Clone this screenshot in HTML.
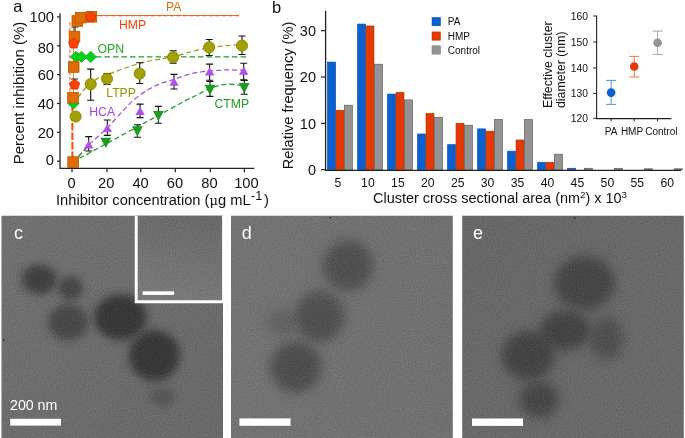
<!DOCTYPE html>
<html lang="en"><head><meta charset="utf-8"><title>Figure</title>
<style>html,body{margin:0;padding:0;background:#fff}svg{display:block}</style></head>
<body>
<svg width="685" height="438" viewBox="0 0 685 438" font-family='"Liberation Sans", sans-serif'>
<defs>
<filter id="bl" x="-50%" y="-50%" width="200%" height="200%"><feGaussianBlur stdDeviation="4.2"/></filter>
<filter id="bl2" x="-50%" y="-50%" width="200%" height="200%"><feGaussianBlur stdDeviation="5.2"/></filter>
<filter id="noise" x="0" y="0" width="100%" height="100%" color-interpolation-filters="sRGB">
<feTurbulence type="fractalNoise" baseFrequency="0.85" numOctaves="1" seed="3" result="n"/>
<feColorMatrix type="matrix" values="2.2 0 0 0 -0.64  2.2 0 0 0 -0.64  2.2 0 0 0 -0.64  0 0 0 0 0.07"/>
</filter>
<linearGradient id="gc" x1="0" y1="0" x2="1" y2="1"><stop offset="0" stop-color="#717171"/><stop offset="1" stop-color="#686868"/></linearGradient>
<linearGradient id="gd" x1="0" y1="0" x2="1" y2="0"><stop offset="0" stop-color="#737373"/><stop offset="1" stop-color="#707070"/></linearGradient>
<linearGradient id="ge" x1="0" y1="0" x2="1" y2="1"><stop offset="0" stop-color="#676767"/><stop offset="1" stop-color="#696969"/></linearGradient>
<linearGradient id="gi" x1="0.6" y1="0" x2="0.4" y2="1"><stop offset="0" stop-color="#696969"/><stop offset="1" stop-color="#7a7a7a"/></linearGradient>
<clipPath id="cc"><rect x="1.5" y="215.8" width="221.5" height="223"/></clipPath>
<clipPath id="cd"><rect x="231" y="215.8" width="221.8" height="223"/></clipPath>
<clipPath id="ce"><rect x="462.2" y="215.8" width="221.6" height="223"/></clipPath>
</defs>
<rect width="685" height="438" fill="#fff"/>
<g id="pa">
<path d="M60 13.2V168.4H254.3" stroke="#222" stroke-width="1.3" fill="none"/>
<path d="M57 161.2H60" stroke="#222" stroke-width="1.2"/>
<text x="54" y="165.3" font-size="14.7" text-anchor="end" fill="#111">0</text>
<path d="M72.0 168.4V172.2" stroke="#222" stroke-width="1.2"/>
<text x="71.5" y="187.7" font-size="14.7" text-anchor="middle" fill="#111">0</text>
<path d="M57 132.3H60" stroke="#222" stroke-width="1.2"/>
<text x="54" y="138.4" font-size="14.7" text-anchor="end" fill="#111">20</text>
<path d="M107.0 168.4V172.2" stroke="#222" stroke-width="1.2"/>
<text x="106.2" y="187.7" font-size="14.7" text-anchor="middle" fill="#111">20</text>
<path d="M57 103.5H60" stroke="#222" stroke-width="1.2"/>
<text x="54" y="108.8" font-size="14.7" text-anchor="end" fill="#111">40</text>
<path d="M140.8 168.4V172.2" stroke="#222" stroke-width="1.2"/>
<text x="140.6" y="187.7" font-size="14.7" text-anchor="middle" fill="#111">40</text>
<path d="M57 74.6H60" stroke="#222" stroke-width="1.2"/>
<text x="54" y="79.9" font-size="14.7" text-anchor="end" fill="#111">60</text>
<path d="M175.3 168.4V172.2" stroke="#222" stroke-width="1.2"/>
<text x="175.0" y="187.7" font-size="14.7" text-anchor="middle" fill="#111">60</text>
<path d="M57 45.8H60" stroke="#222" stroke-width="1.2"/>
<text x="54" y="53.1" font-size="14.7" text-anchor="end" fill="#111">80</text>
<path d="M210.3 168.4V172.2" stroke="#222" stroke-width="1.2"/>
<text x="209.4" y="187.7" font-size="14.7" text-anchor="middle" fill="#111">80</text>
<path d="M57 16.9H60" stroke="#222" stroke-width="1.2"/>
<text x="54" y="22.2" font-size="14.7" text-anchor="end" fill="#111">100</text>
<path d="M244.4 168.4V172.2" stroke="#222" stroke-width="1.2"/>
<text x="246.4" y="187.7" font-size="14.7" text-anchor="middle" fill="#111">100</text>
<text transform="translate(24.3,93) rotate(-90)" font-size="15" text-anchor="middle" fill="#111">Percent inhibition (%)</text>
<text x="56" y="204.7" font-size="14.7" fill="#111">Inhibitor concentration (<tspan font-family='"DejaVu Serif","Liberation Serif",serif' font-size="13">μ</tspan>g mL<tspan dy="-5" dx="0.5" font-size="12.8">-1</tspan><tspan dy="5" dx="1.4">)</tspan></text>
<text x="13.3" y="12.2" font-size="16.5" fill="#111">a</text>
<path d="M96 56.9H247" stroke="#18A518" stroke-width="1.1" stroke-dasharray="5.5 3" fill="none"/>
<path d="M92 15.5H239" stroke="#F07820" stroke-width="1.0" fill="none"/>
<path d="M92 15.8H239" stroke="#FF4200" stroke-width="0.8" stroke-dasharray="4 2.5" fill="none"/>
<path d="M72.4 104V157" stroke="#FF4A10" stroke-width="2.1" stroke-dasharray="7.5 2" fill="none"/>
<path d="M69.9 22V106" stroke="#FF4200" stroke-width="0.9" stroke-dasharray="3.5 2" fill="none"/>
<path d="M73.5 22V106" stroke="#F07820" stroke-width="0.9" fill="none"/>
<path d="M78.2 97.5C79.2 96.2 81.9 91.8 84.0 89.5C86.1 87.2 88.8 85.6 91.0 83.8C93.2 82.0 93.9 80.4 97.4 78.6C100.9 76.8 107.5 74.6 112.0 72.9C116.5 71.2 120.2 69.9 124.7 68.3C129.2 66.7 134.4 64.8 139.3 63.4C144.2 62.0 148.3 61.2 154.0 60.1C159.7 59.0 166.9 58.4 173.2 57.0C179.5 55.6 185.7 53.1 191.7 51.6C197.7 50.1 203.4 48.7 209.2 47.7C215.0 46.7 221.8 46.1 226.6 45.6C231.4 45.1 236.1 45.0 238.0 44.9" stroke="#9A9700" stroke-width="1.2" stroke-dasharray="5 3" fill="none"/>
<path d="M79.5 158.3C83.9 155.9 96.1 149.2 105.8 144.0C115.5 138.8 128.6 131.6 137.4 126.8C146.2 122.0 150.5 119.7 158.4 115.4C166.3 111.1 178.4 104.4 184.8 101.0C191.2 97.6 192.9 97.1 197.0 95.0C201.1 92.9 204.7 90.4 209.5 88.6C214.3 86.8 220.2 84.8 225.9 84.3C231.6 83.8 240.7 85.3 243.7 85.5" stroke="#22A022" stroke-width="1.3" stroke-dasharray="5 3" fill="none"/>
<path d="M78.5 156.5C80.2 154.6 84.2 149.5 88.9 144.8C93.6 140.1 101.2 134.0 106.9 128.3C112.6 122.6 118.2 115.7 122.9 110.8C127.6 105.9 130.9 102.4 134.9 99.0C138.9 95.6 142.9 92.9 146.9 90.4C150.9 88.0 154.3 86.1 158.8 84.3C163.3 82.5 168.2 81.2 173.7 79.4C179.2 77.6 185.8 75.0 191.7 73.6C197.6 72.2 203.2 71.6 209.0 71.0C214.8 70.4 220.9 70.0 226.6 69.9C232.3 69.8 240.3 70.2 243.0 70.3" stroke="#A64BE8" stroke-width="1.3" stroke-dasharray="5 3" fill="none"/>
<path d="M78.5 156.5L88 146.5" stroke="#22A022" stroke-width="1.3" stroke-dasharray="5 3" fill="none"/>
<polygon points="100.4,137.7 111.2,137.7 105.8,148.1" fill="#1E9A1E"/>
<path d="M137.4 124.7V137.3M133.9 124.7H140.9M133.9 137.3H140.9" stroke="#111" stroke-width="1.1" fill="none"/>
<polygon points="132.0,126.3 142.8,126.3 137.4,136.7" fill="#1E9A1E"/>
<path d="M158.4 106.4V123.3M154.9 106.4H161.9M154.9 123.3H161.9" stroke="#111" stroke-width="1.1" fill="none"/>
<polygon points="153.0,110.9 163.8,110.9 158.4,121.3" fill="#1E9A1E"/>
<path d="M210.0 81.5V96.4M206.5 81.5H213.5M206.5 96.4H213.5" stroke="#111" stroke-width="1.1" fill="none"/>
<polygon points="204.6,84.8 215.4,84.8 210.0,95.2" fill="#1E9A1E"/>
<path d="M244.2 80.5V94.2M240.7 80.5H247.7M240.7 94.2H247.7" stroke="#111" stroke-width="1.1" fill="none"/>
<polygon points="238.8,83.1 249.6,83.1 244.2,93.5" fill="#1E9A1E"/>
<path d="M88.7 136.6V151.0M85.2 136.6H92.2M85.2 151.0H92.2" stroke="#111" stroke-width="1.1" fill="none"/>
<polygon points="88.7,140.4 93.4,148.6 84.0,148.6" fill="#B050E8"/>
<path d="M107.3 120.0V135.4M103.8 120.0H110.8M103.8 135.4H110.8" stroke="#111" stroke-width="1.1" fill="none"/>
<polygon points="107.3,123.9 112.0,132.1 102.6,132.1" fill="#B050E8"/>
<path d="M140.1 104.1V117.6M136.6 104.1H143.6M136.6 117.6H143.6" stroke="#111" stroke-width="1.1" fill="none"/>
<polygon points="140.1,106.7 144.8,114.9 135.4,114.9" fill="#B050E8"/>
<path d="M174.0 74.4V89.0M170.5 74.4H177.5M170.5 89.0H177.5" stroke="#111" stroke-width="1.1" fill="none"/>
<polygon points="174.0,77.5 178.7,85.7 169.3,85.7" fill="#B050E8"/>
<path d="M209.6 64.1V80.2M206.1 64.1H213.1M206.1 80.2H213.1" stroke="#111" stroke-width="1.1" fill="none"/>
<polygon points="209.6,67.3 214.3,75.5 204.9,75.5" fill="#B050E8"/>
<path d="M243.7 63.3V79.8M240.2 63.3H247.2M240.2 79.8H247.2" stroke="#111" stroke-width="1.1" fill="none"/>
<polygon points="243.7,66.6 248.4,74.8 239.0,74.8" fill="#B050E8"/>
<circle cx="75.6" cy="116.5" r="5.6" fill="#A3A000" stroke="#858200" stroke-width="0.8"/>
<path d="M90.7 69.1V100.2M87.2 69.1H94.2M87.2 100.2H94.2" stroke="#111" stroke-width="1.1" fill="none"/>
<circle cx="90.7" cy="84.2" r="5.6" fill="#A3A000" stroke="#858200" stroke-width="0.8"/>
<path d="M107.0 73.5V84.5M103.5 73.5H110.5M103.5 84.5H110.5" stroke="#111" stroke-width="1.1" fill="none"/>
<circle cx="107.0" cy="78.8" r="5.6" fill="#A3A000" stroke="#858200" stroke-width="0.8"/>
<path d="M139.7 62.7V83.5M136.2 62.7H143.2M136.2 83.5H143.2" stroke="#111" stroke-width="1.1" fill="none"/>
<circle cx="139.7" cy="73.5" r="5.6" fill="#A3A000" stroke="#858200" stroke-width="0.8"/>
<path d="M173.2 50.8V63.3M169.7 50.8H176.7M169.7 63.3H176.7" stroke="#111" stroke-width="1.1" fill="none"/>
<circle cx="173.2" cy="57.2" r="5.6" fill="#A3A000" stroke="#858200" stroke-width="0.8"/>
<path d="M209.2 39.5V55.5M205.7 39.5H212.7M205.7 55.5H212.7" stroke="#111" stroke-width="1.1" fill="none"/>
<circle cx="209.2" cy="47.3" r="5.6" fill="#A3A000" stroke="#858200" stroke-width="0.8"/>
<path d="M242.0 36.0V54.5M238.5 36.0H245.5M238.5 54.5H245.5" stroke="#111" stroke-width="1.1" fill="none"/>
<circle cx="242.0" cy="45.6" r="5.6" fill="#A3A000" stroke="#858200" stroke-width="0.8"/>
<polygon points="73.5,97.7 79.2,103.4 73.5,109.10000000000001 67.8,103.4" fill="#00D215" stroke="#0AA51A" stroke-width="0.8"/>
<polygon points="76.1,51.199999999999996 81.8,56.9 76.1,62.6 70.39999999999999,56.9" fill="#00D215" stroke="#0AA51A" stroke-width="0.8"/>
<polygon points="81.5,51.199999999999996 87.2,56.9 81.5,62.6 75.8,56.9" fill="#00D215" stroke="#0AA51A" stroke-width="0.8"/>
<polygon points="90.7,51.199999999999996 96.4,56.9 90.7,62.6 85.0,56.9" fill="#00D215" stroke="#0AA51A" stroke-width="0.8"/>
<path d="M75.0 27.0V33.0M71.5 27.0H78.5M71.5 33.0H78.5" stroke="#111" stroke-width="1.1" fill="none"/>
<rect x="67.8" y="156.8" width="10.6" height="10.6" fill="#E06C00" stroke="#B35400" stroke-width="0.8"/>
<rect x="67.7" y="92.4" width="10.6" height="10.6" fill="#E06C00" stroke="#B35400" stroke-width="0.8"/>
<rect x="68.4" y="61.7" width="10.6" height="10.6" fill="#E06C00" stroke="#B35400" stroke-width="0.8"/>
<rect x="69.2" y="31.3" width="10.6" height="10.6" fill="#E06C00" stroke="#B35400" stroke-width="0.8"/>
<rect x="72.0" y="15.7" width="10.6" height="10.6" fill="#E06C00" stroke="#B35400" stroke-width="0.8"/>
<rect x="75.3" y="12.4" width="10.6" height="10.6" fill="#E06C00" stroke="#B35400" stroke-width="0.8"/>
<rect x="86.1" y="11.5" width="10.6" height="10.6" fill="#E06C00" stroke="#B35400" stroke-width="0.8"/>
<path d="M74.6 79.0V84.0M71.1 79.0H78.1M71.1 84.0H78.1" stroke="#111" stroke-width="1.1" fill="none"/>
<polygon points="73.8,38.2 78.9,41.9 77.0,48.0 70.6,48.0 68.7,41.9" fill="#FF4200" stroke="#C83000" stroke-width="0.8"/>
<polygon points="74.6,79.3 79.7,83.0 77.8,89.1 71.4,89.1 69.5,83.0" fill="#FF4200" stroke="#C83000" stroke-width="0.8"/>
<polygon points="90.7,11.8 95.8,15.5 93.9,21.6 87.5,21.6 85.6,15.5" fill="#FF4200" stroke="#C83000" stroke-width="0.8"/>
<text x="166" y="11.4" font-size="12.2" fill="#E2700C">PA</text>
<text x="119" y="28.9" font-size="12.2" fill="#FF4200">HMP</text>
<text x="97.5" y="52.5" font-size="12.3" fill="#1FAE1F">OPN</text>
<text x="106.3" y="96.8" font-size="12.2" fill="#999600">LTPP</text>
<text x="89.3" y="115.6" font-size="12.2" fill="#A040F0">HCA</text>
<text x="214.5" y="108.4" font-size="12.2" fill="#22A022">CTMP</text>
</g>
<g id="pb">
<rect x="327.65" y="62.1" width="7.90" height="107.8" fill="#0A60D0" stroke="#0A4FA8" stroke-width="0.7"/>
<rect x="336.05" y="110.3" width="7.90" height="59.6" fill="#E23A00" stroke="#B83000" stroke-width="0.7"/>
<rect x="344.45" y="105.2" width="7.90" height="64.7" fill="#939393" stroke="#5c5c5c" stroke-width="0.7"/>
<rect x="357.65" y="24.1" width="7.90" height="145.8" fill="#0A60D0" stroke="#0A4FA8" stroke-width="0.7"/>
<rect x="366.05" y="26.0" width="7.90" height="143.9" fill="#E23A00" stroke="#B83000" stroke-width="0.7"/>
<rect x="374.45" y="64.2" width="7.90" height="105.7" fill="#939393" stroke="#5c5c5c" stroke-width="0.7"/>
<rect x="387.65" y="94.1" width="7.90" height="75.8" fill="#0A60D0" stroke="#0A4FA8" stroke-width="0.7"/>
<rect x="396.05" y="92.3" width="7.90" height="77.6" fill="#E23A00" stroke="#B83000" stroke-width="0.7"/>
<rect x="404.45" y="99.9" width="7.90" height="70.0" fill="#939393" stroke="#5c5c5c" stroke-width="0.7"/>
<rect x="417.65" y="134.0" width="7.90" height="35.9" fill="#0A60D0" stroke="#0A4FA8" stroke-width="0.7"/>
<rect x="426.05" y="113.6" width="7.90" height="56.3" fill="#E23A00" stroke="#B83000" stroke-width="0.7"/>
<rect x="434.45" y="117.3" width="7.90" height="52.6" fill="#939393" stroke="#5c5c5c" stroke-width="0.7"/>
<rect x="447.65" y="144.7" width="7.90" height="25.2" fill="#0A60D0" stroke="#0A4FA8" stroke-width="0.7"/>
<rect x="456.05" y="123.3" width="7.90" height="46.6" fill="#E23A00" stroke="#B83000" stroke-width="0.7"/>
<rect x="464.45" y="125.2" width="7.90" height="44.7" fill="#939393" stroke="#5c5c5c" stroke-width="0.7"/>
<rect x="477.65" y="128.9" width="7.90" height="41.0" fill="#0A60D0" stroke="#0A4FA8" stroke-width="0.7"/>
<rect x="486.05" y="131.2" width="7.90" height="38.7" fill="#E23A00" stroke="#B83000" stroke-width="0.7"/>
<rect x="494.45" y="119.6" width="7.90" height="50.3" fill="#939393" stroke="#5c5c5c" stroke-width="0.7"/>
<rect x="507.65" y="151.2" width="7.90" height="18.7" fill="#0A60D0" stroke="#0A4FA8" stroke-width="0.7"/>
<rect x="516.05" y="140.0" width="7.90" height="29.9" fill="#E23A00" stroke="#B83000" stroke-width="0.7"/>
<rect x="524.45" y="119.6" width="7.90" height="50.3" fill="#939393" stroke="#5c5c5c" stroke-width="0.7"/>
<rect x="537.65" y="162.3" width="7.90" height="7.6" fill="#0A60D0" stroke="#0A4FA8" stroke-width="0.7"/>
<rect x="546.05" y="162.3" width="7.90" height="7.6" fill="#E23A00" stroke="#B83000" stroke-width="0.7"/>
<rect x="554.45" y="154.2" width="7.90" height="15.7" fill="#939393" stroke="#5c5c5c" stroke-width="0.7"/>
<rect x="567.65" y="168.3" width="7.90" height="1.6" fill="#0A60D0" stroke="#0A4FA8" stroke-width="0.7"/>
<rect x="584.45" y="168.3" width="7.90" height="1.6" fill="#939393" stroke="#5c5c5c" stroke-width="0.7"/>
<rect x="614.45" y="168.3" width="7.90" height="1.6" fill="#939393" stroke="#5c5c5c" stroke-width="0.7"/>
<rect x="644.45" y="168.8" width="7.90" height="1.1" fill="#939393" stroke="#5c5c5c" stroke-width="0.7"/>
<rect x="674.45" y="168.8" width="7.90" height="1.1" fill="#939393" stroke="#5c5c5c" stroke-width="0.7"/>
<path d="M325.6 10.7V170.3H681" stroke="#222" stroke-width="1.3" fill="none"/>
<path d="M321 169.7H325.6" stroke="#222" stroke-width="1.2"/>
<text x="316" y="174.9" font-size="14.5" text-anchor="end" fill="#111">0</text>
<path d="M321 123.3H325.6" stroke="#222" stroke-width="1.2"/>
<text x="316" y="128.5" font-size="14.5" text-anchor="end" fill="#111">10</text>
<path d="M321 77.0H325.6" stroke="#222" stroke-width="1.2"/>
<text x="316" y="82.2" font-size="14.5" text-anchor="end" fill="#111">20</text>
<path d="M321 30.6H325.6" stroke="#222" stroke-width="1.2"/>
<text x="316" y="35.8" font-size="14.5" text-anchor="end" fill="#111">30</text>
<text x="338.0" y="186.5" font-size="12.2" text-anchor="middle" fill="#111">5</text>
<text x="367.9" y="186.5" font-size="12.2" text-anchor="middle" fill="#111">10</text>
<text x="397.9" y="186.5" font-size="12.2" text-anchor="middle" fill="#111">15</text>
<text x="427.8" y="186.5" font-size="12.2" text-anchor="middle" fill="#111">20</text>
<text x="457.7" y="186.5" font-size="12.2" text-anchor="middle" fill="#111">25</text>
<text x="487.6" y="186.5" font-size="12.2" text-anchor="middle" fill="#111">30</text>
<text x="517.6" y="186.5" font-size="12.2" text-anchor="middle" fill="#111">35</text>
<text x="547.5" y="186.5" font-size="12.2" text-anchor="middle" fill="#111">40</text>
<text x="577.4" y="186.5" font-size="12.2" text-anchor="middle" fill="#111">45</text>
<text x="607.4" y="186.5" font-size="12.2" text-anchor="middle" fill="#111">50</text>
<text x="637.3" y="186.5" font-size="12.2" text-anchor="middle" fill="#111">55</text>
<text x="667.2" y="186.5" font-size="12.2" text-anchor="middle" fill="#111">60</text>
<text transform="translate(293,95.5) rotate(-90)" font-size="14.6" text-anchor="middle" fill="#111">Relative frequency (%)</text>
<text x="373" y="203" font-size="14.45" fill="#111">Cluster cross sectional area (nm<tspan dy="-5" font-size="9.8">2</tspan><tspan dy="5">) x 10</tspan><tspan dy="-5" font-size="9.8">3</tspan></text>
<text x="272" y="13.2" font-size="16.5" fill="#111">b</text>
<rect x="432" y="17.5" width="8.5" height="8.3" fill="#0A60D0" stroke="#0850B0" stroke-width="0.5"/>
<text x="447.8" y="25.1" font-size="10" fill="#111">PA</text>
<rect x="432" y="31.9" width="8.5" height="8.3" fill="#E23A00" stroke="#C03000" stroke-width="0.5"/>
<text x="447.8" y="39.5" font-size="10" fill="#111">HMP</text>
<rect x="432" y="45.8" width="8.5" height="8.3" fill="#939393" stroke="#6e6e6e" stroke-width="0.5"/>
<text x="447.8" y="53.9" font-size="10" fill="#111">Control</text>
<path d="M596.6 15.4V118.6H671.4" stroke="#222" stroke-width="1.1" fill="none"/>
<path d="M593.2 118.3H596.6" stroke="#222" stroke-width="1"/>
<text x="588" y="121.9" font-size="10.3" text-anchor="end" fill="#111">120</text>
<path d="M593.2 93.4H596.6" stroke="#222" stroke-width="1"/>
<text x="588" y="97.0" font-size="10.3" text-anchor="end" fill="#111">130</text>
<path d="M593.2 67.9H596.6" stroke="#222" stroke-width="1"/>
<text x="588" y="71.5" font-size="10.3" text-anchor="end" fill="#111">140</text>
<path d="M593.2 42.0H596.6" stroke="#222" stroke-width="1"/>
<text x="588" y="45.6" font-size="10.3" text-anchor="end" fill="#111">150</text>
<path d="M593.2 16.0H596.6" stroke="#222" stroke-width="1"/>
<text x="588" y="19.6" font-size="10.3" text-anchor="end" fill="#111">160</text>
<path d="M611.1 118.6V121.4" stroke="#222" stroke-width="1"/>
<path d="M611.1 80.4V104.4M606.1 80.4H616.1M606.1 104.4H616.1" stroke="#3F86DC" stroke-width="0.9" fill="none"/>
<circle cx="611.1" cy="92.6" r="4.3" fill="#0A60D0"/>
<path d="M634.2 118.6V121.4" stroke="#222" stroke-width="1"/>
<path d="M634.2 56.4V77.0M629.2 56.4H639.2M629.2 77.0H639.2" stroke="#EA6A3C" stroke-width="0.9" fill="none"/>
<circle cx="634.2" cy="66.5" r="4.3" fill="#E23A00"/>
<path d="M657.6 118.6V121.4" stroke="#222" stroke-width="1"/>
<path d="M657.6 31.1V54.5M652.6 31.1H662.6M652.6 54.5H662.6" stroke="#A2A2A2" stroke-width="0.9" fill="none"/>
<circle cx="657.6" cy="42.8" r="4.3" fill="#939393"/>
<text x="611.1" y="134.6" font-size="10" text-anchor="middle" fill="#111">PA</text>
<text x="632" y="134.6" font-size="10" text-anchor="middle" fill="#111">HMP</text>
<text x="661.3" y="134.6" font-size="10" text-anchor="middle" fill="#111">Control</text>
<text transform="translate(552.2,108) rotate(-90)" font-size="12.3" fill="#111">Effective cluster</text>
<text transform="translate(565,108) rotate(-90)" font-size="12.3" fill="#111">diameter (nm)</text>
</g>
<g id="pc" clip-path="url(#cc)">
<rect x="1" y="215" width="223" height="224" fill="url(#gc)"/>
<ellipse cx="39.3" cy="279.5" rx="17.5" ry="15" fill="#3a3a3a" opacity="0.97" filter="url(#bl)"/>
<ellipse cx="70.3" cy="288.0" rx="12.5" ry="12" fill="#3e3e3e" opacity="0.9" filter="url(#bl)"/>
<ellipse cx="68.2" cy="322.3" rx="20" ry="18.5" fill="#424242" opacity="0.92" filter="url(#bl)"/>
<ellipse cx="120.5" cy="317.3" rx="26.5" ry="23" fill="#333333" opacity="0.97" filter="url(#bl)"/>
<ellipse cx="154.3" cy="355.5" rx="25.5" ry="25.5" fill="#333333" opacity="0.97" filter="url(#bl)"/>
<ellipse cx="163.5" cy="397.0" rx="11" ry="10" fill="#4a4a4a" opacity="0.7" filter="url(#bl)"/>
<ellipse cx="153.0" cy="394.0" rx="8" ry="8" fill="#555" opacity="0.4" filter="url(#bl)"/>
<rect x="136.3" y="215" width="87" height="86.8" fill="url(#gi)"/>
<rect x="1" y="215" width="223" height="224" filter="url(#noise)"/>
<path d="M136.2 215V301.7H224" fill="none" stroke="#fff" stroke-width="2.9"/>
<path d="M222.6 215V302" fill="none" stroke="#fff" stroke-width="1"/>
<rect x="142.6" y="291.3" width="31.5" height="3.6" fill="#fff"/>
<rect x="10.2" y="418.8" width="50.8" height="6.8" fill="#fff"/>
<text x="10" y="410.4" font-size="14.2" fill="#fff">200 nm</text>
<rect x="3" y="339.5" width="1.3" height="1.3" fill="#111"/>
<text x="14" y="239.2" font-size="18" fill="#fff">c</text>
</g>
<g id="pd" clip-path="url(#cd)">
<rect x="230" y="215" width="224" height="224" fill="url(#gd)"/>
<ellipse cx="348.0" cy="265.5" rx="25" ry="25.5" fill="#484848" opacity="0.88" filter="url(#bl2)"/>
<ellipse cx="319.8" cy="316.8" rx="25" ry="25.5" fill="#484848" opacity="0.88" filter="url(#bl2)"/>
<ellipse cx="296.0" cy="367.3" rx="25.5" ry="25.5" fill="#464646" opacity="0.9" filter="url(#bl2)"/>
<ellipse cx="282.0" cy="322.5" rx="15" ry="13" fill="#505050" opacity="0.5" filter="url(#bl2)"/>
<rect x="230" y="215" width="224" height="224" filter="url(#noise)"/>
<rect x="239.4" y="418.4" width="51.2" height="7.4" fill="#fff"/>
<rect x="329.5" y="217" width="1.4" height="1.2" fill="#111"/>
<text x="241.8" y="239.4" font-size="18" fill="#fff">d</text>
</g>
<g id="pe" clip-path="url(#ce)">
<rect x="461" y="215" width="224" height="224" fill="url(#ge)"/>
<ellipse cx="584.5" cy="283.0" rx="30.5" ry="27" fill="#404040" opacity="0.92" filter="url(#bl2)"/>
<ellipse cx="565.0" cy="330.5" rx="25.5" ry="20" fill="#3e3e3e" opacity="0.92" filter="url(#bl2)"/>
<ellipse cx="606.5" cy="338.5" rx="16.5" ry="21.5" fill="#444" opacity="0.78" filter="url(#bl2)"/>
<ellipse cx="528.2" cy="355.5" rx="26.5" ry="24.5" fill="#3e3e3e" opacity="0.92" filter="url(#bl2)"/>
<ellipse cx="539.0" cy="399.3" rx="19.5" ry="18.5" fill="#404040" opacity="0.9" filter="url(#bl2)"/>
<rect x="461" y="215" width="224" height="224" filter="url(#noise)"/>
<rect x="472" y="418.5" width="51" height="7.4" fill="#fff"/>
<rect x="574" y="217.3" width="1.4" height="1.2" fill="#111"/>
<text x="473" y="239.2" font-size="18" fill="#fff">e</text>
</g>
</svg>
</body></html>
